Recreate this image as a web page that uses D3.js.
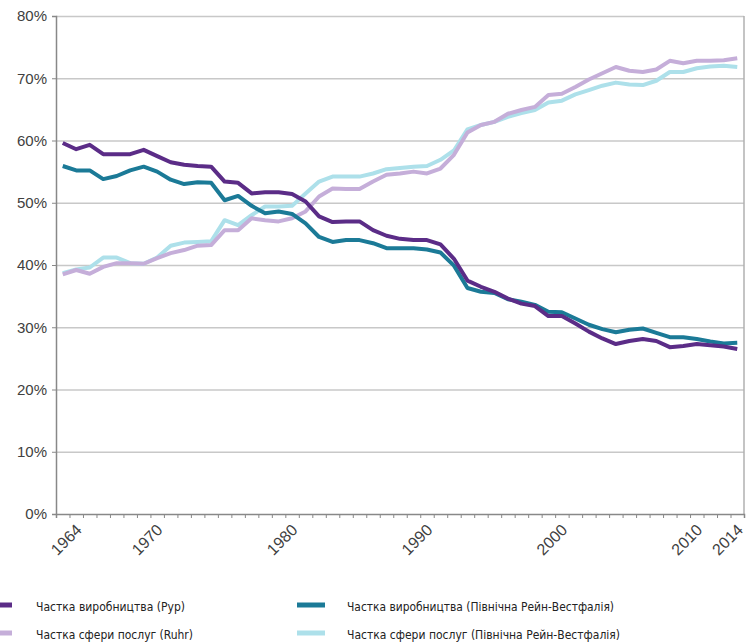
<html lang="uk">
<head>
  <meta charset="utf-8">
  <title>Частка виробництва і сфери послуг</title>
  <script src="https://d3js.org/d3.v7.min.js"></script>
  <style>
    body { margin: 0; background: #fff; }
    svg { display: block; }
  </style>
</head>
<body>
  <svg width="746" height="644"></svg>
  <script>
    // роки 1964–2014
    const years = d3.range(1964, 2015);
    const xLabels = [1964, 1970, 1980, 1990, 2000, 2010, 2014];
    const yTicks = [0, 10, 20, 30, 40, 50, 60, 70, 80];

    // частка виробництва, Рур
    const manufRuhr = [
      59.6, 58.6, 59.3, 57.8, 57.8, 57.8, 58.5, 57.5, 56.5, 56.1,
      55.9, 55.8, 53.4, 53.2, 51.5, 51.7, 51.7, 51.4, 50.2, 47.8,
      46.9, 47.0, 47.0, 45.6, 44.7, 44.2, 44.0, 44.0, 43.3, 41.0,
      37.5, 36.5, 35.7, 34.6, 33.8, 33.4, 31.8, 31.8, 30.6, 29.3,
      28.2, 27.3, 27.8, 28.1, 27.8, 26.8, 27.0, 27.3, 27.1, 26.9,
      26.5
    ];
    // частка виробництва, Північна Рейн-Вестфалія
    const manufNrw = [
      55.9, 55.2, 55.2, 53.8, 54.3, 55.2, 55.8, 55.0, 53.7, 53.0,
      53.3, 53.2, 50.4, 51.1, 49.5, 48.3, 48.6, 48.2, 46.7, 44.5,
      43.7, 44.0, 44.0, 43.5, 42.7, 42.7, 42.7, 42.5, 42.0, 39.9,
      36.3, 35.7, 35.5, 34.5, 34.1, 33.6, 32.5, 32.4, 31.4, 30.4,
      29.7, 29.2, 29.6, 29.8, 29.1, 28.4, 28.4, 28.1, 27.7, 27.4,
      27.5
    ];
    // частка сфери послуг, Ruhr
    const servRuhr = [
      38.5, 39.2, 38.6, 39.7, 40.3, 40.3, 40.2, 41.1, 41.9, 42.4,
      43.1, 43.2, 45.6, 45.6, 47.5, 47.2, 47.0, 47.5, 48.6, 51.0,
      52.3, 52.2, 52.2, 53.4, 54.5, 54.7, 55.0, 54.7, 55.5, 57.7,
      61.3, 62.5, 63.0, 64.3, 64.9, 65.4, 67.3, 67.5, 68.6, 69.8,
      70.8, 71.8, 71.2, 71.0, 71.4, 72.8, 72.4, 72.8, 72.8, 72.9,
      73.2
    ];
    // частка сфери послуг, Північна Рейн-Вестфалія
    const servNrw = [
      38.7, 39.3, 39.6, 41.2, 41.2, 40.3, 40.2, 41.2, 43.1, 43.6,
      43.7, 43.8, 47.2, 46.4, 48.0, 49.4, 49.4, 49.5, 51.5, 53.4,
      54.2, 54.2, 54.2, 54.7, 55.4, 55.6, 55.8, 55.9, 56.9, 58.4,
      61.8, 62.5, 63.0, 63.8, 64.4, 64.9, 66.1, 66.4, 67.4, 68.1,
      68.8, 69.3, 69.0, 68.9, 69.6, 71.0, 71.0, 71.6, 71.9, 72.0,
      71.8
    ];

    const seriesNames = [
      "Частка виробництва (Рур)",
      "Частка виробництва (Північна Рейн-Вестфалія)",
      "Частка сфери послуг (Ruhr)",
      "Частка сфери послуг (Північна Рейн-Вестфалія)"
    ];
    const seriesColors = ["#5b2c87", "#1b7a97", "#c5aed9", "#ade0ea"];
    const seriesValues = [manufRuhr, manufNrw, servRuhr, servNrw];

    const svg = d3.select("svg");
    const plotLeft = 56, plotRight = 744, plotTop = 16, plotBottom = 514;

    const x = d3.scaleBand().domain(years).range([plotLeft, plotRight]);
    const xc = d => x(d) + x.bandwidth() / 2;
    const xEdge = d3.scaleLinear().domain([0, years.length]).range([plotLeft, plotRight]);
    const y = d3.scaleLinear().domain([0, 80]).range([plotBottom, plotTop]);

    // сітка
    svg.append("g")
      .attr("transform", `translate(${plotLeft},0)`)
      .call(d3.axisLeft(y).tickValues(yTicks.slice(1)).tickSize(-(plotRight - plotLeft)).tickFormat(""))
      .call(g => g.select(".domain").remove())
      .call(g => g.selectAll("line").attr("stroke", "#c8c8c8").attr("stroke-width", 1.5));

    // права рамка
    svg.append("line")
      .attr("x1", plotRight).attr("x2", plotRight)
      .attr("y1", y(80)).attr("y2", y(0))
      .attr("stroke", "#b0b0b0").attr("stroke-width", 1.5);

    // вісь Y
    svg.append("g")
      .attr("transform", `translate(${plotLeft},0)`)
      .call(d3.axisLeft(y).tickValues(yTicks).tickSize(4).tickPadding(5).tickFormat(d => d + "%"))
      .call(g => g.select(".domain").attr("stroke", "#888").attr("stroke-width", 1.5))
      .call(g => g.selectAll("line").attr("stroke", "#888"))
      .call(g => g.selectAll("text")
        .attr("font-family", "Liberation Sans, Arial, sans-serif")
        .attr("font-size", 15).attr("fill", "#404040"));

    // вісь X
    svg.append("g")
      .attr("transform", `translate(0,${plotBottom})`)
      .call(d3.axisBottom(xEdge).tickValues(d3.range(years.length + 1)).tickSize(4).tickFormat(""))
      .call(g => g.select(".domain").attr("stroke", "#888").attr("stroke-width", 1.5))
      .call(g => g.selectAll("line").attr("stroke", "#888"));

    svg.append("g")
      .selectAll("text")
      .data(xLabels)
      .enter()
      .append("text")
      .attr("transform", d => `translate(${Math.min(xc(d) + 16, plotRight - 4)},${plotBottom + 13}) rotate(-45)`)
      .attr("text-anchor", "end")
      .attr("dy", "0.35em")
      .attr("font-family", "Liberation Sans, Arial, sans-serif")
      .attr("font-size", 16)
      .attr("fill", "#404040")
      .text(d => d);

    // лінії
    const line = d3.line()
      .x((d, i) => xc(years[i]))
      .y(d => y(d));

    const drawOrder = [3, 2, 1, 0];
    svg.append("g")
      .selectAll("path")
      .data(drawOrder)
      .enter()
      .append("path")
      .attr("fill", "none")
      .attr("stroke", i => seriesColors[i])
      .attr("stroke-width", 4)
      .attr("stroke-linejoin", "round")
      .attr("d", i => line(seriesValues[i]));

    // легенда
    const legendPos = [
      { sx: -16, tx: 36, y: 606, w: 149 },
      { sx: 297, tx: 347, y: 606, w: 267 },
      { sx: -16, tx: 36, y: 634, w: 157 },
      { sx: 297, tx: 347, y: 634, w: 273 }
    ];
    const legend = svg.append("g")
      .selectAll("g")
      .data(seriesNames)
      .enter()
      .append("g");
    legend.append("line")
      .attr("x1", (d, i) => legendPos[i].sx)
      .attr("x2", (d, i) => legendPos[i].sx + 28)
      .attr("y1", (d, i) => legendPos[i].y - 1)
      .attr("y2", (d, i) => legendPos[i].y - 1)
      .attr("stroke", (d, i) => seriesColors[i])
      .attr("stroke-width", 5);
    legend.append("text")
      .attr("x", (d, i) => legendPos[i].tx)
      .attr("y", (d, i) => legendPos[i].y)
      .attr("dy", "0.35em")
      .attr("font-family", "Liberation Sans Narrow, DejaVu Sans Condensed, Arial Narrow, sans-serif")
      .attr("font-size", 13)
      .attr("fill", "#222")
      .attr("textLength", (d, i) => legendPos[i].w)
      .attr("lengthAdjust", "spacingAndGlyphs")
      .text(d => d);
  </script>
</body>
</html>
